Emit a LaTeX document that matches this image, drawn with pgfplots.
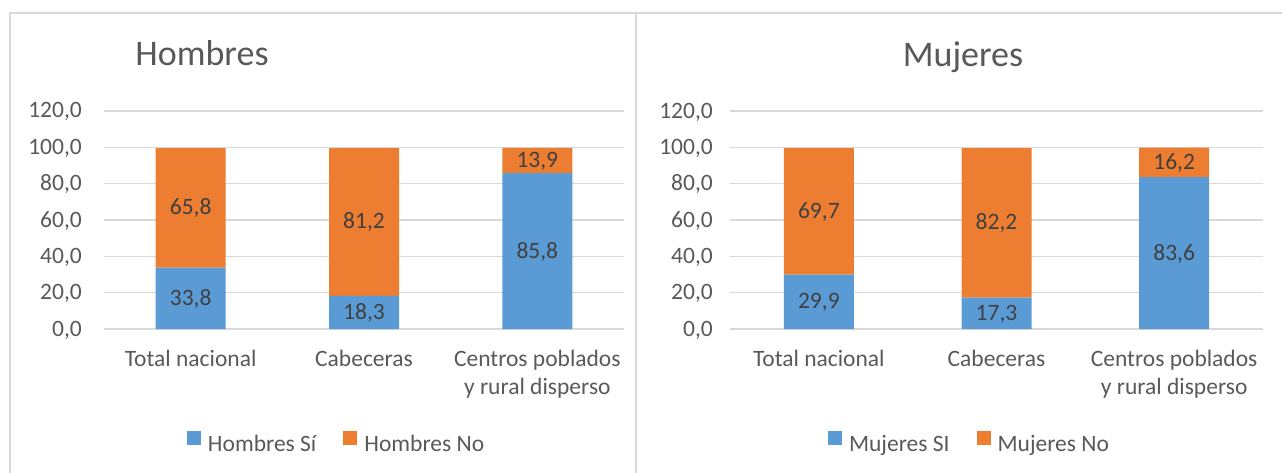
\documentclass[border=0pt]{standalone}
\usepackage{pgfplots}
\pgfplotsset{compat=1.18}
\usepackage{pgfplotstable}
\usepackage{fontspec}
\setmainfont{Carlito}
\definecolor{cblue}{HTML}{5B9BD5}
\definecolor{corange}{HTML}{ED7D31}
\definecolor{cgrid}{HTML}{D9D9D9}
\definecolor{ctext}{HTML}{595959}
\definecolor{clabel}{HTML}{404040}
\newcommand{\sfont}{\fontsize{23.5}{28}\selectfont}

\pgfplotstableread{
x si no
0 33.8 65.8
1 18.3 81.2
2 85.8 13.9
}\hombres
\pgfplotstableread{
x si no
0 29.9 69.7
1 17.3 82.2
2 83.6 16.2
}\mujeres

\pgfplotsset{
  base/.style={
    scale only axis, height=218pt,
    xmin=-0.5, xmax=2.5, ymin=0, ymax=120,
    anchor=south west,
    /pgf/number format/fixed,
    /pgf/number format/fixed zerofill,
    /pgf/number format/precision=1,
    /pgf/number format/use comma,
    /pgf/number format/assume math mode=true,
  },
  panel/.style={
    base,
    ybar stacked, bar width=70pt,
    ytick={0,20,...,120}, xtick={0,1,2},
    xticklabels={\strut Total nacional, \strut Cabeceras, {\strut Centros poblados\\y rural disperso}},
    ymajorgrids, grid style={cgrid, line width=1.5pt},
    axis line style={draw=none}, major tick length=0pt,
    tick label style={font=\sfont, text=ctext, inner sep=0pt},
    yticklabel style={anchor=base east, yshift=-7pt},
    xticklabel style={anchor=north, align=center, yshift=-18pt},
    legend columns=2,
    legend style={draw=none, fill=none, font=\sfont, text=ctext,
      inner sep=0pt, outer sep=0pt, anchor=west,
      nodes={inner sep=0pt},
      /tikz/every odd column/.append style={column sep=7pt},
      /tikz/every even column/.append style={column sep=27pt}},
    legend image code/.code={\fill[##1] (0pt,-1pt) rectangle (14pt,13pt);},
  },
  labels/.style={
    base, hide axis, clip=false,
    point meta=explicit,
    every node near coord/.append style={font=\sfont, text=clabel, anchor=base, yshift=-7pt, inner sep=0pt},
  },
}

\begin{document}
\begin{tikzpicture}
\useasboundingbox (0pt,0pt) rectangle (1282pt,-473pt);
\draw[cgrid, line width=1.5pt] (10pt,-480pt) -- (10pt,-13pt) -- (1290pt,-13pt);
\draw[cgrid, line width=1.5pt] (636pt,-13pt) -- (636pt,-480pt);

\node[anchor=base, font=\fontsize{36}{40}\selectfont, text=ctext] at (202pt,-66pt) {Hombres};
\node[anchor=base, font=\fontsize{36}{40}\selectfont, text=ctext] at (963pt,-67pt) {Mujeres};

% Hombres
\begin{axis}[panel, at={(104pt,-329pt)}, width=520pt,
  yticklabel style={xshift=-22pt},
  legend style={at={(0.1596,-0.52)}}]
\addplot[fill=cblue, draw=none] table[x=x, y=si] {\hombres};
\addlegendentry{Hombres Sí}
\addplot[fill=corange, draw=none] table[x=x, y=no] {\hombres};
\addlegendentry{Hombres No}
\end{axis}
\begin{axis}[labels, at={(104pt,-329pt)}, width=520pt]
\addplot[draw=none, mark=none, nodes near coords] table[x=x, y expr=\thisrow{si}/2, meta=si] {\hombres};
\addplot[draw=none, mark=none, nodes near coords] table[x=x, y expr=\thisrow{si}+\thisrow{no}/2, meta=no] {\hombres};
\end{axis}

% Mujeres
\begin{axis}[panel, at={(730pt,-329pt)}, width=533pt,
  yticklabel style={xshift=-17pt},
  legend style={at={(0.1839,-0.52)}}]
\addplot[fill=cblue, draw=none] table[x=x, y=si] {\mujeres};
\addlegendentry{Mujeres SI}
\addplot[fill=corange, draw=none] table[x=x, y=no] {\mujeres};
\addlegendentry{Mujeres No}
\end{axis}
\begin{axis}[labels, at={(730pt,-329pt)}, width=533pt]
\addplot[draw=none, mark=none, nodes near coords] table[x=x, y expr=\thisrow{si}/2, meta=si] {\mujeres};
\addplot[draw=none, mark=none, nodes near coords] table[x=x, y expr=\thisrow{si}+\thisrow{no}/2, meta=no] {\mujeres};
\end{axis}
\end{tikzpicture}
\end{document}
